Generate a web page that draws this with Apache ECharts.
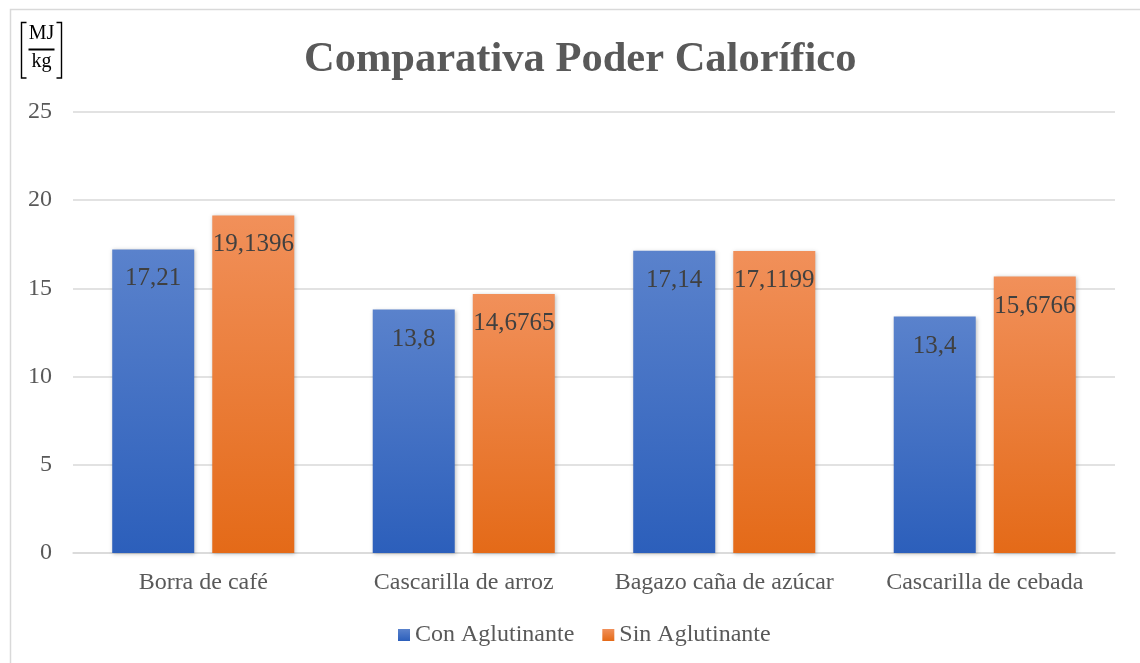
<!DOCTYPE html>
<html>
<head>
<meta charset="utf-8">
<script src="https://cdn.jsdelivr.net/npm/echarts@6/dist/echarts.min.js"></script>
<style>
  html, body { margin: 0; padding: 0; background: #fff; }
  #chart { width: 1140px; height: 663px; }
</style>
</head>
<body>
<div id="chart"></div>
<script>
const categories = ['Borra de café', 'Cascarilla de arroz', 'Bagazo caña de azúcar', 'Cascarilla de cebada'];
const conAglutinante = [17.21, 13.8, 17.14, 13.4];
const sinAglutinante = [19.1396, 14.6765, 17.1199, 15.6766];
const yTicks = [0, 5, 10, 15, 20, 25];

const serif = '"Liberation Serif", "Times New Roman", serif';
const textGray = '#595959';

function grad(top, bottom) {
  return new echarts.graphic.LinearGradient(0, 0, 0, 1, [
    { offset: 0, color: top },
    { offset: 1, color: bottom }
  ]);
}

function fmt(v) { return String(v).replace('.', ','); }

const barLabel = {
  show: true,
  position: 'insideTop',
  distance: 17,
  formatter: p => fmt(p.value),
  fontFamily: serif,
  fontSize: 25,
  color: '#404040'
};

const chart = echarts.init(document.getElementById('chart'));
chart.setOption({
  animation: false,
  backgroundColor: '#fff',
  title: {
    text: 'Comparativa Poder Calorífico',
    left: 299,
    top: 34,
    textStyle: { fontFamily: serif, fontSize: 42.5, fontWeight: 'bold', color: textGray }
  },
  grid: { left: 73, right: 25, top: 112, bottom: 110 },
  legend: {
    bottom: 11,
    left: 393,
    itemWidth: 12,
    itemHeight: 12,
    itemGap: 28,
    icon: 'rect',
    textStyle: { fontFamily: serif, fontSize: 24, color: textGray, padding: [0, 0, 0, 0] },
    data: ['Con Aglutinante', 'Sin Aglutinante']
  },
  xAxis: {
    type: 'category',
    data: categories,
    axisTick: { show: false },
    axisLine: { lineStyle: { color: '#d9d9d9', width: 1.5 } },
    axisLabel: { fontFamily: serif, fontSize: 24, color: textGray, margin: 18, interval: 0 }
  },
  yAxis: {
    type: 'value',
    min: yTicks[0],
    max: yTicks[yTicks.length - 1],
    interval: 5,
    axisLine: { show: false },
    axisTick: { show: false },
    splitLine: { lineStyle: { color: '#d9d9d9', width: 1.5 } },
    axisLabel: { fontFamily: serif, fontSize: 24, color: textGray, margin: 21 }
  },
  series: [
    {
      name: 'Con Aglutinante',
      type: 'bar',
      data: conAglutinante,
      barWidth: 82,
      barGap: '22%',
      itemStyle: {
        color: grad('#5a82cc', '#2c5fbb'),
        shadowBlur: 4,
        shadowColor: 'rgba(0,0,0,0.25)',
        shadowOffsetX: 1,
        shadowOffsetY: 1
      },
      label: barLabel
    },
    {
      name: 'Sin Aglutinante',
      type: 'bar',
      data: sinAglutinante,
      barWidth: 82,
      itemStyle: {
        color: grad('#f1905a', '#e46a18'),
        shadowBlur: 4,
        shadowColor: 'rgba(0,0,0,0.25)',
        shadowOffsetX: 1,
        shadowOffsetY: 1
      },
      label: barLabel
    }
  ],
  graphic: [
    {
      type: 'rect',
      shape: { x: 10.5, y: 9.5, width: 1140, height: 700 },
      style: { fill: 'none', stroke: '#d9d9d9', lineWidth: 1.5 },
      silent: true
    },
    {
      type: 'group',
      left: 19,
      top: 20,
      children: [
        { type: 'polyline', shape: { points: [[6, 0.5], [1, 0.5], [1, 56], [6, 56]] }, style: { stroke: '#000', lineWidth: 1.4, fill: 'none' } },
        { type: 'polyline', shape: { points: [[36, 0.5], [41, 0.5], [41, 56], [36, 56]] }, style: { stroke: '#000', lineWidth: 1.4, fill: 'none' } },
        { type: 'text', x: 21, y: 2, style: { text: 'MJ', fontFamily: serif, fontSize: 20, fill: '#000', align: 'center' } },
        { type: 'line', shape: { x1: 8, y1: 27.5, x2: 34, y2: 27.5 }, style: { stroke: '#000', lineWidth: 2 } },
        { type: 'text', x: 21, y: 30, style: { text: 'kg', fontFamily: serif, fontSize: 20, fill: '#000', align: 'center' } }
      ]
    }
  ]
});
</script>
</body>
</html>
